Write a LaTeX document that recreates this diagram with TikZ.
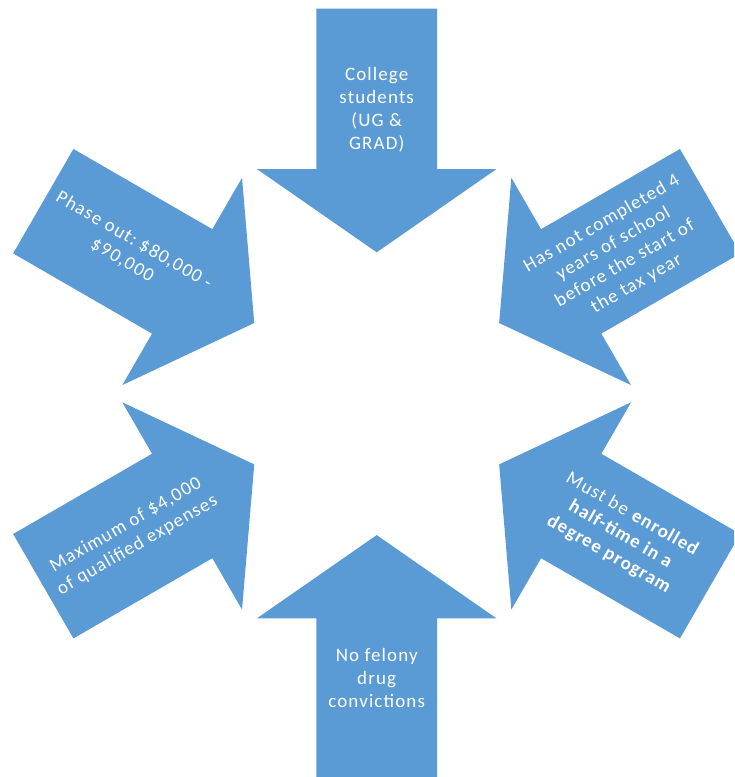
\documentclass[tikz,border=0pt]{standalone}
\usepackage{fontspec}
\setmainfont{Carlito}[LetterSpace=6]
\definecolor{arrowblue}{HTML}{5B9BD5}
\frenchspacing

\begin{document}
\begin{tikzpicture}[x=0.02cm,y=0.02cm,
			bigarrow/.style={fill=arrowblue,draw=none},
			arrowtext/.style={text=white,font=\fontsize{10.8}{13.2}\selectfont,align=center,inner sep=0pt}]
			\useasboundingbox (-376.7,-383.3) rectangle (357.3,393.7);
			\clip (-376.7,-383.3) rectangle (357.3,393.7);
			
			% six arrows pointing to the middle
			\foreach \ang in {90,30,-30,-90,210,150}
			\fill[bigarrow,rotate=\ang] (385,60.3) -- (224.6,60.3) -- (224.6,119.7) -- (141.4,0) -- (224.6,-119.7) -- (224.6,-60.3) -- (385,-60.3) -- cycle;
			
			\node[arrowtext] (college) at (90:284) {College\\students\\(UG \&\\GRAD)};
			\node[arrowtext,rotate=30] (school) at (30:280) {Has not completed 4\\years of school\\before the start of\\the tax year};
			\node[arrowtext,rotate=-30] (enrolled) at (-30:282) {Must be \textbf{enrolled}\\\textbf{half-time in a}\\\textbf{degree program}};
			\node[arrowtext] (felony) at (-90:284) {No felony\\drug\\convictions};
			\node[arrowtext,rotate=30] (maximum) at (210:283) {Maximum of \$4,000\\of qualified expenses};
			\node[arrowtext,rotate=-30] (phaseout) at (150:287) {Phase out: \$80,000 -\\\$90,000};
			\end{tikzpicture}
\end{document}
